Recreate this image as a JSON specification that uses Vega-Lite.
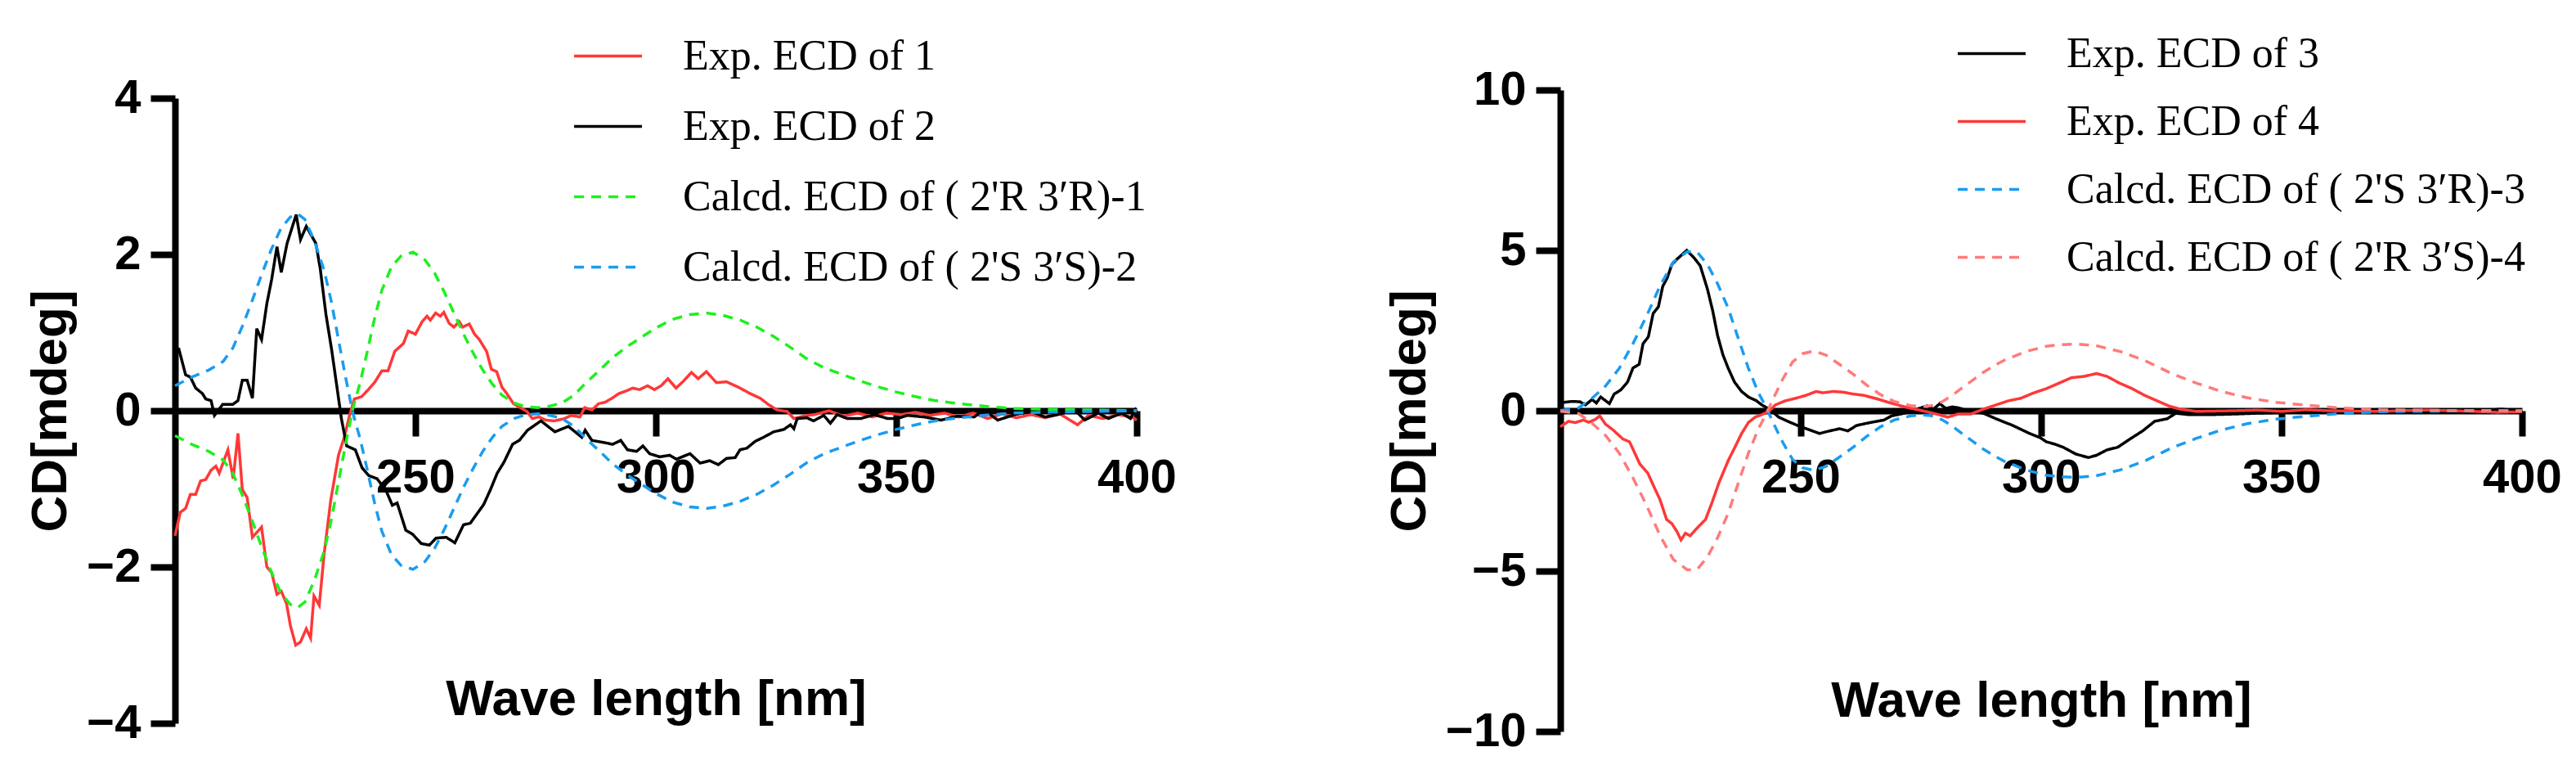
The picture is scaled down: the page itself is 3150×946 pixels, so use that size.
{
  "$schema": "https://vega.github.io/schema/vega-lite/v6.json",
  "background": "white",
  "padding": {"left": 30, "top": 22, "right": 0, "bottom": 0},
  "spacing": 253,
  "center": true,
  "config": {
    "view": {"stroke": null},
    "axis": {
      "grid": false,
      "domainColor": "black", "domainWidth": 8,
      "tickColor": "black", "tickWidth": 8,
      "labelFont": "Liberation Sans", "labelFontWeight": "bold", "labelFontSize": 58, "labelColor": "black",
      "labelFlush": false, "labelOverlap": false,
      "titleFont": "Liberation Sans", "titleFontWeight": "bold", "titleFontSize": 62, "titleColor": "black"
    },
    "axisY": {"tickSize": 30, "labelPadding": 12, "titlePadding": 12},
    "axisX": {"tickSize": 31, "labelPadding": 22},
    "legend": {
      "orient": "none", "title": null, "padding": 0,
      "labelFont": "Liberation Serif", "labelFontSize": 52, "labelColor": "black", "labelLimit": 2000,
      "symbolType": "stroke", "symbolSize": 6889, "symbolStrokeWidth": 4,
      "labelOffset": 48
    },
    "line": {"strokeWidth": 3.5}
  },
  "resolve": {
    "scale": {"x": "independent", "y": "independent", "color": "independent", "strokeDash": "independent"},
    "legend": {"color": "independent", "strokeDash": "independent"}
  },
  "datasets": {
    "left": [
      {"s":"e1","x":200,"y":-1.6},{"s":"e1","x":201.1,"y":-1.3},{"s":"e1","x":202.2,"y":-1.25},{"s":"e1","x":203.2,"y":-1.07},{"s":"e1","x":204.3,"y":-1.07},{"s":"e1","x":205.3,"y":-0.9},{"s":"e1","x":206.4,"y":-0.88},{"s":"e1","x":207.5,"y":-0.76},{"s":"e1","x":208.5,"y":-0.71},{"s":"e1","x":209.2,"y":-0.8},{"s":"e1","x":211,"y":-0.5},{"s":"e1","x":212.1,"y":-0.87},{"s":"e1","x":213.1,"y":-0.29},{"s":"e1","x":214,"y":-1.01},{"s":"e1","x":215,"y":-1.11},{"s":"e1","x":216.1,"y":-1.62},{"s":"e1","x":218,"y":-1.49},{"s":"e1","x":219.1,"y":-2.0},{"s":"e1","x":220.1,"y":-2.07},{"s":"e1","x":221.2,"y":-2.35},{"s":"e1","x":222.1,"y":-2.31},{"s":"e1","x":223.2,"y":-2.47},{"s":"e1","x":224,"y":-2.75},{"s":"e1","x":225.1,"y":-3.0},{"s":"e1","x":226.1,"y":-2.96},{"s":"e1","x":227.3,"y":-2.79},{"s":"e1","x":228.2,"y":-2.91},{"s":"e1","x":228.9,"y":-2.37},{"s":"e1","x":230,"y":-2.49},{"s":"e1","x":231,"y":-1.84},{"s":"e1","x":232.4,"y":-1.14},{"s":"e1","x":234,"y":-0.57},{"s":"e1","x":235.2,"y":-0.34},{"s":"e1","x":236.3,"y":-0.06},{"s":"e1","x":237.3,"y":0.15},{"s":"e1","x":238.8,"y":0.18},{"s":"e1","x":240.2,"y":0.27},{"s":"e1","x":241.6,"y":0.37},{"s":"e1","x":243,"y":0.51},{"s":"e1","x":244.3,"y":0.51},{"s":"e1","x":245.7,"y":0.76},{"s":"e1","x":247.5,"y":0.86},{"s":"e1","x":248.5,"y":1.02},{"s":"e1","x":250,"y":0.98},{"s":"e1","x":251.4,"y":1.14},{"s":"e1","x":252.4,"y":1.21},{"s":"e1","x":253.1,"y":1.16},{"s":"e1","x":254.2,"y":1.25},{"s":"e1","x":255.2,"y":1.21},{"s":"e1","x":255.9,"y":1.26},{"s":"e1","x":257,"y":1.12},{"s":"e1","x":258,"y":1.07},{"s":"e1","x":259.1,"y":1.14},{"s":"e1","x":259.8,"y":1.07},{"s":"e1","x":261.2,"y":1.11},{"s":"e1","x":262.3,"y":0.98},{"s":"e1","x":263.3,"y":0.91},{"s":"e1","x":264.8,"y":0.76},{"s":"e1","x":265.8,"y":0.53},{"s":"e1","x":266.9,"y":0.5},{"s":"e1","x":268,"y":0.3},{"s":"e1","x":269,"y":0.22},{"s":"e1","x":270.4,"y":0.09},{"s":"e1","x":271.8,"y":0.04},{"s":"e1","x":273.2,"y":-0.01},{"s":"e1","x":274.3,"y":-0.1},{"s":"e1","x":275.7,"y":-0.08},{"s":"e1","x":277.1,"y":-0.12},{"s":"e1","x":278.9,"y":-0.13},{"s":"e1","x":281,"y":-0.1},{"s":"e1","x":282.4,"y":-0.06},{"s":"e1","x":284.2,"y":-0.08},{"s":"e1","x":285.2,"y":0.04},{"s":"e1","x":286.7,"y":0.01},{"s":"e1","x":288.1,"y":0.09},{"s":"e1","x":289.5,"y":0.11},{"s":"e1","x":290.9,"y":0.16},{"s":"e1","x":292.3,"y":0.22},{"s":"e1","x":293.7,"y":0.25},{"s":"e1","x":295.2,"y":0.29},{"s":"e1","x":296.6,"y":0.27},{"s":"e1","x":298.3,"y":0.32},{"s":"e1","x":299.7,"y":0.27},{"s":"e1","x":301.1,"y":0.32},{"s":"e1","x":302.5,"y":0.41},{"s":"e1","x":304.2,"y":0.29},{"s":"e1","x":305.6,"y":0.37},{"s":"e1","x":307.4,"y":0.49},{"s":"e1","x":308.8,"y":0.41},{"s":"e1","x":310.5,"y":0.5},{"s":"e1","x":312.6,"y":0.36},{"s":"e1","x":314.7,"y":0.37},{"s":"e1","x":317.2,"y":0.3},{"s":"e1","x":319.6,"y":0.22},{"s":"e1","x":321.7,"y":0.16},{"s":"e1","x":323.4,"y":0.08},{"s":"e1","x":325.2,"y":0.01},{"s":"e1","x":327.3,"y":-0.01},{"s":"e1","x":328.7,"y":-0.1},{"s":"e1","x":331.4,"y":-0.06},{"s":"e1","x":333,"y":-0.05},{"s":"e1","x":336,"y":0.0},{"s":"e1","x":339,"y":-0.07},{"s":"e1","x":342,"y":-0.03},{"s":"e1","x":345,"y":-0.08},{"s":"e1","x":348,"y":-0.03},{"s":"e1","x":351,"y":-0.05},{"s":"e1","x":354,"y":-0.02},{"s":"e1","x":357,"y":-0.06},{"s":"e1","x":360,"y":-0.03},{"s":"e1","x":363,"y":-0.08},{"s":"e1","x":366,"y":-0.03},{"s":"e1","x":369,"y":-0.1},{"s":"e1","x":372,"y":-0.04},{"s":"e1","x":375,"y":-0.09},{"s":"e1","x":378,"y":-0.05},{"s":"e1","x":381,"y":-0.09},{"s":"e1","x":384,"y":-0.04},{"s":"e1","x":387.7,"y":-0.18},{"s":"e1","x":390,"y":-0.06},{"s":"e1","x":393,"y":-0.1},{"s":"e1","x":396,"y":-0.05},{"s":"e1","x":399,"y":-0.08},{"s":"e1","x":400,"y":-0.12},

      {"s":"e2","x":200,"y":0.8},{"s":"e2","x":200.8,"y":0.79},{"s":"e2","x":202.2,"y":0.46},{"s":"e2","x":203.2,"y":0.43},{"s":"e2","x":204.3,"y":0.29},{"s":"e2","x":205.7,"y":0.22},{"s":"e2","x":206.4,"y":0.15},{"s":"e2","x":207.5,"y":0.13},{"s":"e2","x":208.2,"y":-0.06},{"s":"e2","x":209.9,"y":0.08},{"s":"e2","x":212,"y":0.08},{"s":"e2","x":213.1,"y":0.13},{"s":"e2","x":214,"y":0.39},{"s":"e2","x":215,"y":0.39},{"s":"e2","x":216.1,"y":0.16},{"s":"e2","x":217,"y":1.05},{"s":"e2","x":218,"y":0.91},{"s":"e2","x":219.1,"y":1.37},{"s":"e2","x":220.1,"y":1.68},{"s":"e2","x":221.2,"y":2.1},{"s":"e2","x":222.1,"y":1.77},{"s":"e2","x":223.3,"y":2.14},{"s":"e2","x":225.2,"y":2.51},{"s":"e2","x":226.1,"y":2.19},{"s":"e2","x":227.3,"y":2.36},{"s":"e2","x":229.3,"y":2.14},{"s":"e2","x":230.2,"y":1.82},{"s":"e2","x":231.4,"y":1.23},{"s":"e2","x":232.6,"y":0.77},{"s":"e2","x":233.8,"y":0.25},{"s":"e2","x":234.6,"y":-0.1},{"s":"e2","x":235.7,"y":-0.45},{"s":"e2","x":237.5,"y":-0.5},{"s":"e2","x":238.9,"y":-0.73},{"s":"e2","x":240.3,"y":-0.83},{"s":"e2","x":242,"y":-0.87},{"s":"e2","x":243.8,"y":-1.01},{"s":"e2","x":245.2,"y":-1.21},{"s":"e2","x":246.2,"y":-1.18},{"s":"e2","x":248,"y":-1.53},{"s":"e2","x":249.4,"y":-1.58},{"s":"e2","x":251.2,"y":-1.7},{"s":"e2","x":252.9,"y":-1.72},{"s":"e2","x":254.3,"y":-1.63},{"s":"e2","x":256.4,"y":-1.62},{"s":"e2","x":258.2,"y":-1.69},{"s":"e2","x":260,"y":-1.46},{"s":"e2","x":261.4,"y":-1.44},{"s":"e2","x":262.8,"y":-1.32},{"s":"e2","x":264.2,"y":-1.2},{"s":"e2","x":265.6,"y":-1.01},{"s":"e2","x":267,"y":-0.8},{"s":"e2","x":268.4,"y":-0.66},{"s":"e2","x":270.2,"y":-0.43},{"s":"e2","x":271.6,"y":-0.38},{"s":"e2","x":273.3,"y":-0.25},{"s":"e2","x":276.1,"y":-0.13},{"s":"e2","x":279,"y":-0.27},{"s":"e2","x":281.8,"y":-0.2},{"s":"e2","x":284.6,"y":-0.34},{"s":"e2","x":285.3,"y":-0.25},{"s":"e2","x":286.7,"y":-0.38},{"s":"e2","x":289.5,"y":-0.41},{"s":"e2","x":291,"y":-0.43},{"s":"e2","x":292.7,"y":-0.38},{"s":"e2","x":294.1,"y":-0.5},{"s":"e2","x":296,"y":-0.52},{"s":"e2","x":297.3,"y":-0.45},{"s":"e2","x":298.7,"y":-0.55},{"s":"e2","x":300.8,"y":-0.59},{"s":"e2","x":302.9,"y":-0.57},{"s":"e2","x":304.3,"y":-0.62},{"s":"e2","x":307.1,"y":-0.55},{"s":"e2","x":309.2,"y":-0.67},{"s":"e2","x":311.2,"y":-0.64},{"s":"e2","x":313,"y":-0.69},{"s":"e2","x":314.7,"y":-0.61},{"s":"e2","x":316.5,"y":-0.6},{"s":"e2","x":317.5,"y":-0.5},{"s":"e2","x":318.9,"y":-0.48},{"s":"e2","x":320.7,"y":-0.39},{"s":"e2","x":322.4,"y":-0.34},{"s":"e2","x":324.5,"y":-0.27},{"s":"e2","x":326.6,"y":-0.24},{"s":"e2","x":328,"y":-0.18},{"s":"e2","x":328.7,"y":-0.23},{"s":"e2","x":329.4,"y":-0.1},{"s":"e2","x":331.4,"y":-0.09},{"s":"e2","x":332.8,"y":-0.13},{"s":"e2","x":334.9,"y":-0.06},{"s":"e2","x":336.3,"y":-0.16},{"s":"e2","x":337.7,"y":-0.05},{"s":"e2","x":339.8,"y":-0.1},{"s":"e2","x":342.6,"y":-0.1},{"s":"e2","x":345.4,"y":-0.05},{"s":"e2","x":348.2,"y":-0.1},{"s":"e2","x":350.2,"y":-0.1},{"s":"e2","x":352.3,"y":-0.06},{"s":"e2","x":355.8,"y":-0.08},{"s":"e2","x":359.3,"y":-0.12},{"s":"e2","x":362.7,"y":-0.07},{"s":"e2","x":366.2,"y":-0.08},{"s":"e2","x":368.3,"y":0.01},{"s":"e2","x":371.1,"y":-0.12},{"s":"e2","x":374.6,"y":-0.05},{"s":"e2","x":378.1,"y":-0.01},{"s":"e2","x":380.9,"y":-0.08},{"s":"e2","x":383.6,"y":-0.05},{"s":"e2","x":387.1,"y":0.01},{"s":"e2","x":389.2,"y":-0.12},{"s":"e2","x":392,"y":-0.03},{"s":"e2","x":394.1,"y":-0.1},{"s":"e2","x":396.9,"y":-0.03},{"s":"e2","x":398.7,"y":-0.1},{"s":"e2","x":399.7,"y":0.01},{"s":"e2","x":400,"y":-0.03},

      {"s":"c1","x":200,"y":-0.32},{"s":"c1","x":203.5,"y":-0.43},{"s":"c1","x":207,"y":-0.52},{"s":"c1","x":210,"y":-0.63},{"s":"c1","x":212,"y":-0.8},{"s":"c1","x":214,"y":-1.08},{"s":"c1","x":216,"y":-1.4},{"s":"c1","x":218,"y":-1.74},{"s":"c1","x":220,"y":-2.06},{"s":"c1","x":222,"y":-2.33},{"s":"c1","x":224,"y":-2.48},{"s":"c1","x":225.5,"y":-2.52},{"s":"c1","x":227,"y":-2.45},{"s":"c1","x":229,"y":-2.17},{"s":"c1","x":231,"y":-1.8},{"s":"c1","x":232.5,"y":-1.4},{"s":"c1","x":234,"y":-0.91},{"s":"c1","x":235.5,"y":-0.42},{"s":"c1","x":237,"y":0.03},{"s":"c1","x":238.5,"y":0.36},{"s":"c1","x":240,"y":0.76},{"s":"c1","x":241.5,"y":1.18},{"s":"c1","x":243,"y":1.54},{"s":"c1","x":245,"y":1.84},{"s":"c1","x":247,"y":1.98},{"s":"c1","x":249.5,"y":2.03},{"s":"c1","x":252,"y":1.93},{"s":"c1","x":254,"y":1.76},{"s":"c1","x":256,"y":1.52},{"s":"c1","x":258,"y":1.25},{"s":"c1","x":260,"y":0.98},{"s":"c1","x":262,"y":0.74},{"s":"c1","x":264,"y":0.52},{"s":"c1","x":266,"y":0.34},{"s":"c1","x":268,"y":0.2},{"s":"c1","x":270.5,"y":0.1},{"s":"c1","x":273,"y":0.05},{"s":"c1","x":275.5,"y":0.04},{"s":"c1","x":278,"y":0.06},{"s":"c1","x":280.5,"y":0.1},{"s":"c1","x":283,"y":0.2},{"s":"c1","x":285.5,"y":0.36},{"s":"c1","x":288,"y":0.5},{"s":"c1","x":291,"y":0.68},{"s":"c1","x":294,"y":0.82},{"s":"c1","x":297,"y":0.94},{"s":"c1","x":300,"y":1.06},{"s":"c1","x":303.5,"y":1.17},{"s":"c1","x":307,"y":1.23},{"s":"c1","x":310.5,"y":1.25},{"s":"c1","x":314,"y":1.22},{"s":"c1","x":317.5,"y":1.16},{"s":"c1","x":321,"y":1.07},{"s":"c1","x":324.5,"y":0.95},{"s":"c1","x":328,"y":0.81},{"s":"c1","x":331.5,"y":0.66},{"s":"c1","x":335,"y":0.55},{"s":"c1","x":338.5,"y":0.47},{"s":"c1","x":342,"y":0.39},{"s":"c1","x":346,"y":0.31},{"s":"c1","x":350,"y":0.24},{"s":"c1","x":354,"y":0.18},{"s":"c1","x":358,"y":0.13},{"s":"c1","x":363,"y":0.09},{"s":"c1","x":368,"y":0.06},{"s":"c1","x":374,"y":0.03},{"s":"c1","x":380,"y":0.02},{"s":"c1","x":390,"y":0.01},{"s":"c1","x":400,"y":0.0},

      {"s":"c2","x":200,"y":0.32},{"s":"c2","x":203.5,"y":0.43},{"s":"c2","x":207,"y":0.52},{"s":"c2","x":210,"y":0.63},{"s":"c2","x":212,"y":0.8},{"s":"c2","x":214,"y":1.08},{"s":"c2","x":216,"y":1.4},{"s":"c2","x":218,"y":1.74},{"s":"c2","x":220,"y":2.06},{"s":"c2","x":222,"y":2.33},{"s":"c2","x":224,"y":2.48},{"s":"c2","x":225.5,"y":2.52},{"s":"c2","x":227,"y":2.45},{"s":"c2","x":229,"y":2.17},{"s":"c2","x":231,"y":1.8},{"s":"c2","x":232.5,"y":1.4},{"s":"c2","x":234,"y":0.91},{"s":"c2","x":235.5,"y":0.42},{"s":"c2","x":237,"y":-0.03},{"s":"c2","x":238.5,"y":-0.36},{"s":"c2","x":240,"y":-0.76},{"s":"c2","x":241.5,"y":-1.18},{"s":"c2","x":243,"y":-1.54},{"s":"c2","x":245,"y":-1.84},{"s":"c2","x":247,"y":-1.98},{"s":"c2","x":249.5,"y":-2.03},{"s":"c2","x":252,"y":-1.93},{"s":"c2","x":254,"y":-1.76},{"s":"c2","x":256,"y":-1.52},{"s":"c2","x":258,"y":-1.25},{"s":"c2","x":260,"y":-0.98},{"s":"c2","x":262,"y":-0.74},{"s":"c2","x":264,"y":-0.52},{"s":"c2","x":266,"y":-0.34},{"s":"c2","x":268,"y":-0.2},{"s":"c2","x":270.5,"y":-0.1},{"s":"c2","x":273,"y":-0.05},{"s":"c2","x":275.5,"y":-0.04},{"s":"c2","x":278,"y":-0.06},{"s":"c2","x":280.5,"y":-0.1},{"s":"c2","x":283,"y":-0.2},{"s":"c2","x":285.5,"y":-0.36},{"s":"c2","x":288,"y":-0.5},{"s":"c2","x":291,"y":-0.68},{"s":"c2","x":294,"y":-0.82},{"s":"c2","x":297,"y":-0.94},{"s":"c2","x":300,"y":-1.06},{"s":"c2","x":303.5,"y":-1.17},{"s":"c2","x":307,"y":-1.23},{"s":"c2","x":310.5,"y":-1.25},{"s":"c2","x":314,"y":-1.22},{"s":"c2","x":317.5,"y":-1.16},{"s":"c2","x":321,"y":-1.07},{"s":"c2","x":324.5,"y":-0.95},{"s":"c2","x":328,"y":-0.81},{"s":"c2","x":331.5,"y":-0.66},{"s":"c2","x":335,"y":-0.55},{"s":"c2","x":338.5,"y":-0.47},{"s":"c2","x":342,"y":-0.39},{"s":"c2","x":346,"y":-0.31},{"s":"c2","x":350,"y":-0.24},{"s":"c2","x":354,"y":-0.18},{"s":"c2","x":358,"y":-0.13},{"s":"c2","x":363,"y":-0.09},{"s":"c2","x":368,"y":-0.06},{"s":"c2","x":374,"y":-0.03},{"s":"c2","x":380,"y":-0.02},{"s":"c2","x":390,"y":-0.01},{"s":"c2","x":400,"y":0.0}
    ],
    "right": [
      {"s":"e3","x":200,"y":0.25},{"s":"e3","x":200.6,"y":0.26},{"s":"e3","x":202.4,"y":0.29},{"s":"e3","x":204.1,"y":0.28},{"s":"e3","x":205.2,"y":0.18},{"s":"e3","x":206.6,"y":0.35},{"s":"e3","x":207.5,"y":0.24},{"s":"e3","x":208.4,"y":0.43},{"s":"e3","x":210.2,"y":0.22},{"s":"e3","x":211.2,"y":0.52},{"s":"e3","x":212.6,"y":0.65},{"s":"e3","x":214,"y":0.9},{"s":"e3","x":215.1,"y":1.33},{"s":"e3","x":216.4,"y":1.45},{"s":"e3","x":217.2,"y":2.09},{"s":"e3","x":218.3,"y":2.3},{"s":"e3","x":219.3,"y":3.03},{"s":"e3","x":220.4,"y":3.24},{"s":"e3","x":221.3,"y":3.88},{"s":"e3","x":222.2,"y":4.13},{"s":"e3","x":223.2,"y":4.56},{"s":"e3","x":224.3,"y":4.73},{"s":"e3","x":226.3,"y":5.0},{"s":"e3","x":227.8,"y":4.77},{"s":"e3","x":229.1,"y":4.52},{"s":"e3","x":230.6,"y":3.79},{"s":"e3","x":231.7,"y":3.11},{"s":"e3","x":232.7,"y":2.35},{"s":"e3","x":233.8,"y":1.75},{"s":"e3","x":234.9,"y":1.33},{"s":"e3","x":236.2,"y":0.9},{"s":"e3","x":237.7,"y":0.6},{"s":"e3","x":239.1,"y":0.43},{"s":"e3","x":240.8,"y":0.31},{"s":"e3","x":241.9,"y":0.18},{"s":"e3","x":243.7,"y":0.03},{"s":"e3","x":245.4,"y":-0.2},{"s":"e3","x":247.9,"y":-0.37},{"s":"e3","x":250,"y":-0.5},{"s":"e3","x":251.7,"y":-0.59},{"s":"e3","x":253.9,"y":-0.71},{"s":"e3","x":256,"y":-0.63},{"s":"e3","x":258.1,"y":-0.56},{"s":"e3","x":259.8,"y":-0.63},{"s":"e3","x":261.6,"y":-0.46},{"s":"e3","x":264.4,"y":-0.37},{"s":"e3","x":267.3,"y":-0.29},{"s":"e3","x":268.9,"y":-0.16},{"s":"e3","x":271.5,"y":-0.08},{"s":"e3","x":275,"y":0.09},{"s":"e3","x":276.3,"y":0.15},{"s":"e3","x":277.6,"y":0.05},{"s":"e3","x":278.9,"y":0.22},{"s":"e3","x":280.2,"y":0.07},{"s":"e3","x":281.5,"y":0.12},{"s":"e3","x":282.8,"y":0.09},{"s":"e3","x":285.4,"y":-0.03},{"s":"e3","x":288,"y":-0.08},{"s":"e3","x":290.6,"y":-0.25},{"s":"e3","x":294.1,"y":-0.46},{"s":"e3","x":297.6,"y":-0.71},{"s":"e3","x":299.8,"y":-0.84},{"s":"e3","x":301.1,"y":-0.97},{"s":"e3","x":302.8,"y":-1.04},{"s":"e3","x":304.6,"y":-1.14},{"s":"e3","x":307.2,"y":-1.35},{"s":"e3","x":309.8,"y":-1.46},{"s":"e3","x":311.5,"y":-1.39},{"s":"e3","x":313.7,"y":-1.22},{"s":"e3","x":315.9,"y":-1.14},{"s":"e3","x":318.5,"y":-0.88},{"s":"e3","x":321.1,"y":-0.63},{"s":"e3","x":323.6,"y":-0.33},{"s":"e3","x":326.2,"y":-0.25},{"s":"e3","x":328,"y":-0.08},{"s":"e3","x":330.6,"y":-0.12},{"s":"e3","x":335.8,"y":-0.12},{"s":"e3","x":341,"y":-0.1},{"s":"e3","x":344.5,"y":-0.08},{"s":"e3","x":353.2,"y":-0.05},{"s":"e3","x":361.9,"y":-0.03},{"s":"e3","x":370.5,"y":-0.05},{"s":"e3","x":379.2,"y":-0.03},{"s":"e3","x":387.9,"y":-0.05},{"s":"e3","x":395.7,"y":0.05},{"s":"e3","x":400,"y":-0.02},

      {"s":"e4","x":200,"y":-0.5},{"s":"e4","x":201.7,"y":-0.33},{"s":"e4","x":203.1,"y":-0.37},{"s":"e4","x":204.8,"y":-0.29},{"s":"e4","x":205.9,"y":-0.36},{"s":"e4","x":207.3,"y":-0.27},{"s":"e4","x":208.2,"y":-0.16},{"s":"e4","x":209.4,"y":-0.42},{"s":"e4","x":210.9,"y":-0.59},{"s":"e4","x":213,"y":-0.88},{"s":"e4","x":214.4,"y":-0.97},{"s":"e4","x":216.5,"y":-1.65},{"s":"e4","x":218.2,"y":-1.95},{"s":"e4","x":220,"y":-2.54},{"s":"e4","x":220.7,"y":-2.76},{"s":"e4","x":222.1,"y":-3.39},{"s":"e4","x":223.2,"y":-3.52},{"s":"e4","x":224.3,"y":-3.78},{"s":"e4","x":225.1,"y":-4.03},{"s":"e4","x":226,"y":-3.82},{"s":"e4","x":227,"y":-3.9},{"s":"e4","x":228.5,"y":-3.65},{"s":"e4","x":230.2,"y":-3.39},{"s":"e4","x":231.6,"y":-2.84},{"s":"e4","x":233,"y":-2.24},{"s":"e4","x":234.9,"y":-1.56},{"s":"e4","x":236.3,"y":-1.14},{"s":"e4","x":237.7,"y":-0.71},{"s":"e4","x":239.1,"y":-0.37},{"s":"e4","x":240.5,"y":-0.2},{"s":"e4","x":241.9,"y":-0.12},{"s":"e4","x":243.4,"y":-0.02},{"s":"e4","x":244.7,"y":0.18},{"s":"e4","x":246.8,"y":0.31},{"s":"e4","x":249,"y":0.39},{"s":"e4","x":251.1,"y":0.48},{"s":"e4","x":253.2,"y":0.6},{"s":"e4","x":254.6,"y":0.56},{"s":"e4","x":256.7,"y":0.6},{"s":"e4","x":258.8,"y":0.58},{"s":"e4","x":260.9,"y":0.52},{"s":"e4","x":263.1,"y":0.48},{"s":"e4","x":265.9,"y":0.37},{"s":"e4","x":268.7,"y":0.24},{"s":"e4","x":271.6,"y":0.12},{"s":"e4","x":274.4,"y":0.03},{"s":"e4","x":277.6,"y":-0.08},{"s":"e4","x":280.6,"y":-0.2},{"s":"e4","x":282.8,"y":-0.1},{"s":"e4","x":285.4,"y":-0.1},{"s":"e4","x":288,"y":0.05},{"s":"e4","x":290.6,"y":0.18},{"s":"e4","x":293.2,"y":0.31},{"s":"e4","x":295.8,"y":0.39},{"s":"e4","x":298.5,"y":0.56},{"s":"e4","x":301.1,"y":0.69},{"s":"e4","x":303.7,"y":0.86},{"s":"e4","x":306.3,"y":1.03},{"s":"e4","x":308.9,"y":1.07},{"s":"e4","x":311.5,"y":1.16},{"s":"e4","x":313.7,"y":1.07},{"s":"e4","x":316.3,"y":0.86},{"s":"e4","x":318.9,"y":0.69},{"s":"e4","x":321.5,"y":0.48},{"s":"e4","x":324.1,"y":0.31},{"s":"e4","x":326.7,"y":0.14},{"s":"e4","x":328.9,"y":0.05},{"s":"e4","x":332.3,"y":-0.02},{"s":"e4","x":340,"y":0.0},{"s":"e4","x":345,"y":0.02},{"s":"e4","x":350,"y":-0.02},{"s":"e4","x":355,"y":0.03},{"s":"e4","x":360,"y":0.0},{"s":"e4","x":370,"y":-0.02},{"s":"e4","x":380,"y":0.02},{"s":"e4","x":390,"y":-0.02},{"s":"e4","x":395,"y":-0.05},{"s":"e4","x":400,"y":-0.03},

      {"s":"c3","x":200,"y":0.01},{"s":"c3","x":203.8,"y":0.09},{"s":"c3","x":206.6,"y":0.39},{"s":"c3","x":209.4,"y":0.77},{"s":"c3","x":212.3,"y":1.33},{"s":"c3","x":215.1,"y":2.09},{"s":"c3","x":217.9,"y":2.94},{"s":"c3","x":220.7,"y":3.88},{"s":"c3","x":223.5,"y":4.64},{"s":"c3","x":226.4,"y":4.96},{"s":"c3","x":228.5,"y":4.94},{"s":"c3","x":230.6,"y":4.56},{"s":"c3","x":232.7,"y":3.96},{"s":"c3","x":234.9,"y":3.2},{"s":"c3","x":237,"y":2.26},{"s":"c3","x":239.1,"y":1.33},{"s":"c3","x":241.2,"y":0.56},{"s":"c3","x":243,"y":0.05},{"s":"c3","x":244,"y":-0.29},{"s":"c3","x":246.2,"y":-0.97},{"s":"c3","x":248.3,"y":-1.52},{"s":"c3","x":250.4,"y":-1.78},{"s":"c3","x":252.8,"y":-1.86},{"s":"c3","x":255.3,"y":-1.73},{"s":"c3","x":258.1,"y":-1.44},{"s":"c3","x":260.9,"y":-1.14},{"s":"c3","x":263.7,"y":-0.8},{"s":"c3","x":266.6,"y":-0.5},{"s":"c3","x":269.4,"y":-0.29},{"s":"c3","x":272.9,"y":-0.16},{"s":"c3","x":275,"y":-0.13},{"s":"c3","x":277,"y":-0.15},{"s":"c3","x":279.4,"y":-0.28},{"s":"c3","x":281.5,"y":-0.48},{"s":"c3","x":283.7,"y":-0.73},{"s":"c3","x":286,"y":-0.98},{"s":"c3","x":288,"y":-1.2},{"s":"c3","x":290.2,"y":-1.4},{"s":"c3","x":292.4,"y":-1.58},{"s":"c3","x":296.7,"y":-1.84},{"s":"c3","x":301,"y":-2.01},{"s":"c3","x":304,"y":-2.06},{"s":"c3","x":307.1,"y":-2.08},{"s":"c3","x":311.4,"y":-2.03},{"s":"c3","x":316.6,"y":-1.84},{"s":"c3","x":321.9,"y":-1.54},{"s":"c3","x":327.1,"y":-1.16},{"s":"c3","x":332.3,"y":-0.86},{"s":"c3","x":337.5,"y":-0.6},{"s":"c3","x":342.7,"y":-0.41},{"s":"c3","x":348.8,"y":-0.26},{"s":"c3","x":354.8,"y":-0.18},{"s":"c3","x":361.8,"y":-0.09},{"s":"c3","x":370.5,"y":-0.03},{"s":"c3","x":383.6,"y":-0.01},{"s":"c3","x":400,"y":0.0},

      {"s":"c4","x":200,"y":-0.01},{"s":"c4","x":203.8,"y":-0.09},{"s":"c4","x":206.6,"y":-0.39},{"s":"c4","x":209.4,"y":-0.77},{"s":"c4","x":212.3,"y":-1.33},{"s":"c4","x":215.1,"y":-2.09},{"s":"c4","x":217.9,"y":-2.94},{"s":"c4","x":220.7,"y":-3.88},{"s":"c4","x":223.5,"y":-4.64},{"s":"c4","x":226.4,"y":-4.96},{"s":"c4","x":228.5,"y":-4.94},{"s":"c4","x":230.6,"y":-4.56},{"s":"c4","x":232.7,"y":-3.96},{"s":"c4","x":234.9,"y":-3.2},{"s":"c4","x":237,"y":-2.26},{"s":"c4","x":239.1,"y":-1.33},{"s":"c4","x":241.2,"y":-0.56},{"s":"c4","x":243,"y":-0.05},{"s":"c4","x":244,"y":0.29},{"s":"c4","x":246.2,"y":0.97},{"s":"c4","x":248.3,"y":1.52},{"s":"c4","x":250.4,"y":1.78},{"s":"c4","x":252.8,"y":1.86},{"s":"c4","x":255.3,"y":1.73},{"s":"c4","x":258.1,"y":1.44},{"s":"c4","x":260.9,"y":1.14},{"s":"c4","x":263.7,"y":0.8},{"s":"c4","x":266.6,"y":0.5},{"s":"c4","x":269.4,"y":0.29},{"s":"c4","x":272.9,"y":0.16},{"s":"c4","x":275,"y":0.13},{"s":"c4","x":277,"y":0.15},{"s":"c4","x":279.4,"y":0.28},{"s":"c4","x":281.5,"y":0.48},{"s":"c4","x":283.7,"y":0.73},{"s":"c4","x":286,"y":0.98},{"s":"c4","x":288,"y":1.2},{"s":"c4","x":290.2,"y":1.4},{"s":"c4","x":292.4,"y":1.58},{"s":"c4","x":296.7,"y":1.84},{"s":"c4","x":301,"y":2.01},{"s":"c4","x":304,"y":2.06},{"s":"c4","x":307.1,"y":2.08},{"s":"c4","x":311.4,"y":2.03},{"s":"c4","x":316.6,"y":1.84},{"s":"c4","x":321.9,"y":1.54},{"s":"c4","x":327.1,"y":1.16},{"s":"c4","x":332.3,"y":0.86},{"s":"c4","x":337.5,"y":0.6},{"s":"c4","x":342.7,"y":0.41},{"s":"c4","x":348.8,"y":0.26},{"s":"c4","x":354.8,"y":0.18},{"s":"c4","x":361.8,"y":0.09},{"s":"c4","x":370.5,"y":0.03},{"s":"c4","x":383.6,"y":0.01},{"s":"c4","x":400,"y":0.0}
    ]
  },
  "hconcat": [
    {
      "width": 1176,
      "height": 764,
      "data": {"name": "left"},
      "mark": {"type": "line"},
      "encoding": {
        "x": {"field": "x", "type": "quantitative",
          "scale": {"domain": [200, 400], "nice": false, "zero": false},
          "axis": {"values": [250, 300, 350, 400], "offset": -382, "title": "Wave length [nm]", "titleY": 322}},
        "y": {"field": "y", "type": "quantitative",
          "scale": {"domain": [-4, 4], "nice": false},
          "axis": {"values": [-4, -2, 0, 2, 4], "title": "CD[mdeg]"}},
        "color": {"field": "s", "type": "nominal",
          "scale": {"domain": ["e1", "e2", "c1", "c2"], "range": ["#ff3838", "#000000", "#1ef01e", "#1a9cf0"]},
          "legend": {"legendX": 486, "legendY": -95, "rowPadding": 16,
            "labelExpr": "{'e1': 'Exp. ECD of 1', 'e2': 'Exp. ECD of 2', 'c1': \"Calcd. ECD of ( 2'R 3′R)-1\", 'c2': \"Calcd. ECD of ( 2'S 3′S)-2\"}[datum.label]"}},
        "strokeDash": {"field": "s", "type": "nominal",
          "scale": {"domain": ["e1", "e2", "c1", "c2"], "range": [[1, 0], [1, 0], [12, 9], [12, 9]]},
          "legend": {"legendX": 486, "legendY": -95, "rowPadding": 16,
            "labelExpr": "{'e1': 'Exp. ECD of 1', 'e2': 'Exp. ECD of 2', 'c1': \"Calcd. ECD of ( 2'R 3′R)-1\", 'c2': \"Calcd. ECD of ( 2'S 3′S)-2\"}[datum.label]"}}
      }
    },
    {
      "width": 1176,
      "height": 784,
      "data": {"name": "right"},
      "mark": {"type": "line"},
      "encoding": {
        "x": {"field": "x", "type": "quantitative",
          "scale": {"domain": [200, 400], "nice": false, "zero": false},
          "axis": {"values": [250, 300, 350, 400], "offset": -392, "title": "Wave length [nm]", "titleY": 324}},
        "y": {"field": "y", "type": "quantitative",
          "scale": {"domain": [-10, 10], "nice": false},
          "axis": {"values": [-10, -5, 0, 5, 10], "title": "CD[mdeg]"}},
        "color": {"field": "s", "type": "nominal",
          "scale": {"domain": ["e3", "e4", "c3", "c4"], "range": ["#000000", "#ff3838", "#1a9cf0", "#ff7b7b"]},
          "legend": {"legendX": 484, "legendY": -88, "rowPadding": 13,
            "labelExpr": "{'e3': 'Exp. ECD of 3', 'e4': 'Exp. ECD of 4', 'c3': \"Calcd. ECD of ( 2'S 3′R)-3\", 'c4': \"Calcd. ECD of ( 2'R 3′S)-4\"}[datum.label]"}},
        "strokeDash": {"field": "s", "type": "nominal",
          "scale": {"domain": ["e3", "e4", "c3", "c4"], "range": [[1, 0], [1, 0], [12, 9], [12, 9]]},
          "legend": {"legendX": 484, "legendY": -88, "rowPadding": 13,
            "labelExpr": "{'e3': 'Exp. ECD of 3', 'e4': 'Exp. ECD of 4', 'c3': \"Calcd. ECD of ( 2'S 3′R)-3\", 'c4': \"Calcd. ECD of ( 2'R 3′S)-4\"}[datum.label]"}}
      }
    }
  ]
}
